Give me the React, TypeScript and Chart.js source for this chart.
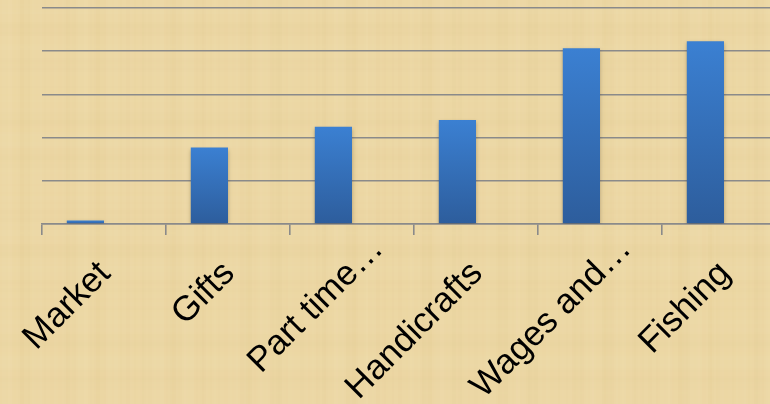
import React, { useEffect, useRef } from "react";
import { Chart, registerables } from "chart.js";

Chart.register(...registerables);

const categories = ["Market", "Gifts", "Part time…", "Handicrafts", "Wages and…", "Fishing"];
const seriesValues = [0.8, 17.7, 22.5, 24.1, 40.7, 42.3];
const secondSeries = [0, 0, 0, 0, 0, 0];
const yTicks = [0, 10, 20, 30, 40, 50];

const W = 786;
const H = 404;
const LABEL_FONT = "35px 'Liberation Sans', Arial, sans-serif";

const papyrusPlugin = {
  id: "papyrus",
  beforeDraw(chart: any) {
    const { ctx, width, height } = chart;
    ctx.save();
    ctx.fillStyle = "#ecd7a4";
    ctx.fillRect(0, 0, width, height);
    for (let x = 0; x < width; x += 2) {
      const a = Math.sin(x * 0.21) * Math.sin(x * 0.037 + 1.3) + 0.4 * Math.sin(x * 0.83);
      ctx.fillStyle = a > 0 ? `rgba(255,246,220,${a * 0.05})` : `rgba(200,160,80,${-a * 0.04})`;
      ctx.fillRect(x, 0, 2, height);
    }
    for (let y = 0; y < height; y += 2) {
      const a = Math.sin(y * 0.17) * Math.sin(y * 0.029 + 0.7) + 0.3 * Math.sin(y * 0.71);
      ctx.fillStyle = a > 0 ? `rgba(255,246,220,${a * 0.04})` : `rgba(200,160,80,${-a * 0.03})`;
      ctx.fillRect(0, y, width, 2);
    }
    ctx.restore();
  },
  beforeDatasetsDraw(chart: any) {
    const ctx = chart.ctx;
    ctx.save();
    ctx.shadowColor = "rgba(60,40,10,0.35)";
    ctx.shadowBlur = 4;
    ctx.shadowOffsetY = 2;
    ctx.shadowOffsetX = 0;
  },
  afterDatasetsDraw(chart: any) {
    chart.ctx.restore();
  },
};

// Rotated category labels; a trailing ellipsis overflows past the anchor point.
const labelPlugin = {
  id: "rotatedLabels",
  afterDraw(chart: any) {
    const { ctx } = chart;
    const scale = chart.scales.x;
    const labels: string[] = chart.data.labels;
    ctx.save();
    ctx.font = LABEL_FONT;
    ctx.fillStyle = "#000000";
    ctx.textBaseline = "alphabetic";
    ctx.textAlign = "left";
    labels.forEach((label, i) => {
      const x = scale.getPixelForTick(i) + 8;
      const y = scale.top + 51;
      const main = label.endsWith("…") ? label.slice(0, -1) : label;
      const w = ctx.measureText(main).width;
      ctx.save();
      ctx.translate(x, y);
      ctx.rotate(-Math.PI / 4);
      ctx.fillText(label, -w, 0);
      ctx.restore();
    });
    ctx.restore();
  },
};

function barGradient(context: any) {
  const chart = context.chart;
  const yScale = chart.scales && chart.scales.y;
  if (!chart.chartArea || !yScale) return "#3574c0";
  const v = context.raw as number;
  const top = yScale.getPixelForValue(v);
  const bottom = yScale.getPixelForValue(0);
  if (!isFinite(top) || Math.abs(bottom - top) < 1) return "#3a7dcf";
  const g = chart.ctx.createLinearGradient(0, top, 0, bottom);
  g.addColorStop(0, "#3b80d2");
  g.addColorStop(1, "#2d5d9c");
  return g;
}

export default function App() {
  const ref = useRef<HTMLCanvasElement | null>(null);
  useEffect(() => {
    if (!ref.current) return;
    const chart = new Chart(ref.current, {
      type: "bar",
      data: {
        labels: categories,
        datasets: [
          {
            label: "Series 1",
            data: seriesValues,
            backgroundColor: barGradient,
            borderWidth: 0,
            categoryPercentage: 0.6,
            barPercentage: 1,
          },
          {
            label: "Series 2",
            data: secondSeries,
            backgroundColor: "rgba(0,0,0,0)",
            borderWidth: 0,
            categoryPercentage: 0.6,
            barPercentage: 1,
          },
        ],
      },
      options: {
        responsive: false,
        animation: false,
        layout: { padding: { left: 42, top: 8, right: 0, bottom: 0 } },
        plugins: {
          legend: { display: false },
          tooltip: { enabled: false },
        },
        scales: {
          x: {
            grid: {
              offset: true,
              drawOnChartArea: false,
              drawTicks: true,
              tickLength: 11,
              color: "#8a8a8a",
              lineWidth: 1.6,
            },
            border: { display: true, color: "#8a8a8a", width: 1.6 },
            ticks: { display: false, autoSkip: false },
            afterFit: (scale: any) => {
              scale.height = 180;
            },
          },
          y: {
            min: yTicks[0],
            max: yTicks[yTicks.length - 1],
            afterBuildTicks: (scale: any) => {
              scale.ticks = yTicks.map((v) => ({ value: v }));
            },
            ticks: { display: false },
            grid: { drawTicks: false, color: "#8a8a8a", lineWidth: 1.6 },
            border: { display: false },
            afterFit: (scale: any) => {
              scale.width = 0;
            },
          },
        },
      },
      plugins: [papyrusPlugin, labelPlugin],
    });
    return () => chart.destroy();
  }, []);
  return (
    <div style={{ position: "fixed", left: 0, top: 0, width: W, height: H, overflow: "hidden" }}>
      <canvas ref={ref} width={W} height={H} style={{ display: "block" }} />
    </div>
  );
}
